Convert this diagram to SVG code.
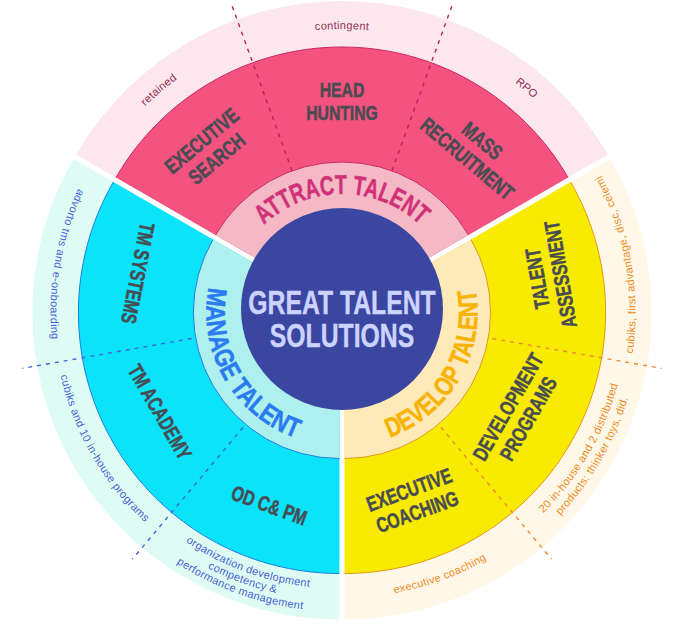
<svg xmlns="http://www.w3.org/2000/svg" width="675" height="635" viewBox="0 0 675 635">
<defs>
<style>
.big{font-family:'Liberation Sans',Arial,sans-serif;font-weight:bold;font-size:21px;fill:#474c52;stroke:#474c52;stroke-width:0.5px;text-anchor:middle}
.ring{font-family:'Liberation Sans',Arial,sans-serif;font-weight:bold;font-size:27px;stroke-width:0.5px;text-anchor:middle}
.sm{font-family:'Liberation Sans',Arial,sans-serif;font-size:11px;text-anchor:middle;letter-spacing:0.3px}
.ctr{font-family:'Liberation Sans',Arial,sans-serif;font-weight:bold;font-size:33px;fill:#ccd3ff;stroke:#ccd3ff;stroke-width:0.4px;text-anchor:middle}
.eA{fill:none;stroke:#c92a62;stroke-width:1}
.eM{fill:none;stroke:#1f7fe6;stroke-width:1}
.eD{fill:none;stroke:#e39a17;stroke-width:1}
.dA{fill:none;stroke:#b3275c;stroke-width:1.4;stroke-dasharray:4 5}
.dM{fill:none;stroke:#4169d9;stroke-width:1.4;stroke-dasharray:4 5}
.dD{fill:none;stroke:#ef8a35;stroke-width:1.4;stroke-dasharray:4 5}
</style>
<path id="pAttract" d="M234.87,269.01 A114,114 0 0 1 449.13,269.01"/>
<path id="pManage" d="M237.52,227.01 A133,133 0 0 0 362.49,443.48"/>
<path id="pDevelop" d="M321.51,443.48 A133,133 0 0 0 446.48,227.01"/>
<path id="pRet" d="M64.29,259.04 A282,282 0 0 1 342,26"/>
<path id="pCon" d="M162.66,94.29 A279,279 0 0 1 521.34,94.29"/>
<path id="pRpo" d="M342,24 A284,284 0 0 1 621.69,258.68"/>
<path id="pAdv" d="M153.63,91.13 A289,289 0 0 0 89.13,457"/>
<path id="pCub" d="M57.75,262.85 A286,286 0 0 0 241.59,581.25"/>
<path id="pOrg1" d="M100.38,450.5 A276,276 0 0 0 433.8,571.86"/>
<path id="pOrg2" d="M90.42,456.25 A287.5,287.5 0 0 0 437.73,582.66"/>
<path id="pOrg3" d="M80.47,462 A299,299 0 0 0 441.66,593.47"/>
<path id="pCel" d="M567.51,499.55 A291,291 0 0 0 490.1,60.49"/>
<path id="pDis1" d="M441.22,577.97 A282.5,282.5 0 0 0 622.81,263.44"/>
<path id="pDis2" d="M445.84,590.65 A296,296 0 0 0 636.1,261.1"/>
<path id="pExc" d="M247.13,580.31 A285,285 0 0 0 591.42,455"/>
</defs>
<rect width="675" height="635" fill="#ffffff"/>

<g id="attract">
<path d="M342,308 L76.13,154.5 A307,307 0 0 1 607.87,154.5 Z" fill="#fde7ee"/>
<path d="M342,308 L115.97,177.5 A261,261 0 0 1 568.03,177.5 Z" fill="#f4527f"/>
<path d="M342,308 L215.56,235 A146,146 0 0 1 468.44,235 Z" fill="#f4b9c4"/>
<path class="eA" d="M115.97,177.5 A261,261 0 0 1 568.03,177.5"/>
<path class="eA" d="M215.56,235 A146,146 0 0 1 468.44,235"/>
</g>

<g id="manage">
<path d="M339.4,312.5 L339.4,619.5 A307,307 0 0 1 73.53,159 Z" fill="#defcf4"/>
<path d="M339.4,312.5 L339.4,573.5 A261,261 0 0 1 113.37,182 Z" fill="#0be3fb"/>
<path d="M339.4,312.5 L339.4,458.5 A146,146 0 0 1 212.96,239.5 Z" fill="#aef0ee"/>
<path class="eM" d="M339.4,573.5 A261,261 0 0 1 113.37,182"/>
<path class="eM" d="M339.4,458.5 A146,146 0 0 1 212.96,239.5"/>
</g>

<g id="develop">
<path d="M344.6,312.5 L610.47,159 A307,307 0 0 1 344.6,619.5 Z" fill="#fff8e8"/>
<path d="M344.6,312.5 L570.63,182 A261,261 0 0 1 344.6,573.5 Z" fill="#f8ea00"/>
<path d="M344.6,312.5 L471.04,239.5 A146,146 0 0 1 344.6,458.5 Z" fill="#feeab8"/>
<path class="eD" d="M570.63,182 A261,261 0 0 1 344.6,573.5"/>
<path class="eD" d="M471.04,239.5 A146,146 0 0 1 344.6,458.5"/>
</g>

<g id="dividers">
<path class="dA" d="M292.07,170.8 L231.87,5.42"/>
<path class="dA" d="M391.93,170.8 L452.13,5.42"/>
<path class="dM" d="M242.98,427.4 L132.42,559.15"/>
<path class="dM" d="M191.68,338.54 L22.29,368.41"/>
<path class="dD" d="M492.32,338.54 L661.71,368.41"/>
<path class="dD" d="M441.02,427.4 L551.58,559.15"/>
</g>

<g id="center">
<circle cx="342" cy="309" r="101" fill="#3b46a0"/>
<g transform="translate(342,0) scale(0.75,1)">
<text class="ctr" x="0" y="314">GREAT TALENT</text>
<text class="ctr" x="0" y="347">SOLUTIONS</text>
</g>
</g>

<g id="attract-labels">
<text class="ring" fill="#d2317a" stroke="#d2317a"><textPath href="#pAttract" startOffset="50%" textLength="172" lengthAdjust="spacingAndGlyphs">ATTRACT TALENT</textPath></text>
<g id="executive-search" transform="translate(208.94,149.43) rotate(-40) scale(0.75,1)"><text class="big"><tspan x="0" y="-4">EXECUTIVE</tspan><tspan x="0" y="19.5">SEARCH</tspan></text></g>
<g id="head-hunting" transform="translate(342,101) scale(0.75,1)"><text class="big"><tspan x="0" y="-4">HEAD</tspan><tspan x="0" y="19.5">HUNTING</tspan></text></g>
<g id="mass-recruitment" transform="translate(475.06,149.43) rotate(40) scale(0.75,1)"><text class="big"><tspan x="0" y="-4">MASS</tspan><tspan x="0" y="19.5">RECRUITMENT</tspan></text></g>
<text class="sm" fill="#8f2f52"><textPath href="#pRet" startOffset="50%">retained</textPath></text>
<text class="sm" fill="#8f2f52"><textPath href="#pCon" startOffset="50%">contingent</textPath></text>
<text class="sm" fill="#8f2f52"><textPath href="#pRpo" startOffset="50%">RPO</textPath></text>
</g>

<g id="manage-labels">
<text class="ring" fill="#2b7bf0" stroke="#2b7bf0"><textPath href="#pManage" startOffset="50%" textLength="190" lengthAdjust="spacingAndGlyphs">MANAGE TALENT</textPath></text>
<g id="tm-systems" transform="translate(138.17,273.39) rotate(101) scale(0.75,1)"><text class="big" x="0" y="7.5">TM SYSTEMS</text></g>
<g id="tm-academy" transform="translate(160.1,411.9) rotate(60) scale(0.75,1)"><text class="big" x="0" y="7.5">TM ACADEMY</text></g>
<g id="od-cpm" transform="translate(269.29,505.14) rotate(20) scale(0.75,1)"><text class="big" x="0" y="7.5">OD C&amp; PM</text></g>
<text class="sm" fill="#4a5fd6"><textPath href="#pAdv" startOffset="50%">advorto tms and e-onboarding</textPath></text>
<text class="sm" fill="#4a5fd6"><textPath href="#pCub" startOffset="50%">cubiks and 10 in-house programs</textPath></text>
<text class="sm" fill="#4a5fd6"><textPath href="#pOrg1" startOffset="50%">organization development</textPath></text>
<text class="sm" fill="#4a5fd6"><textPath href="#pOrg2" startOffset="50%">competency &amp;</textPath></text>
<text class="sm" fill="#4a5fd6"><textPath href="#pOrg3" startOffset="50%">performance management</textPath></text>
</g>

<g id="develop-labels">
<text class="ring" fill="#f8b200" stroke="#f8b200"><textPath href="#pDevelop" startOffset="50%" textLength="186" lengthAdjust="spacingAndGlyphs">DEVELOP TALENT</textPath></text>
<g id="talent-assessment" transform="translate(548.45,276.56) rotate(-100) scale(0.75,1)"><text class="big"><tspan x="0" y="-4">TALENT</tspan><tspan x="0" y="19.5">ASSESSMENT</tspan></text></g>
<g id="development-programs" transform="translate(517.8,412.5) rotate(-60) scale(0.75,1)"><text class="big"><tspan x="0" y="-4">DEVELOPMENT</tspan><tspan x="0" y="19.5">PROGRAMS</tspan></text></g>
<g id="executive-coaching" transform="translate(413,500.4) rotate(-20) scale(0.75,1)"><text class="big"><tspan x="0" y="-4">EXECUTIVE</tspan><tspan x="0" y="19.5">COACHING</tspan></text></g>
<text class="sm" fill="#ef8a1d"><textPath href="#pCel" startOffset="50%">cubiks, first advantage, disc, celemi</textPath></text>
<text class="sm" fill="#ef8a1d"><textPath href="#pDis1" startOffset="50%">20 in-house and 2 distributed</textPath></text>
<text class="sm" fill="#ef8a1d"><textPath href="#pDis2" startOffset="50%">products: thinker toys, did.</textPath></text>
<text class="sm" fill="#ef8a1d"><textPath href="#pExc" startOffset="50%">executive coaching</textPath></text>
</g>
</svg>
